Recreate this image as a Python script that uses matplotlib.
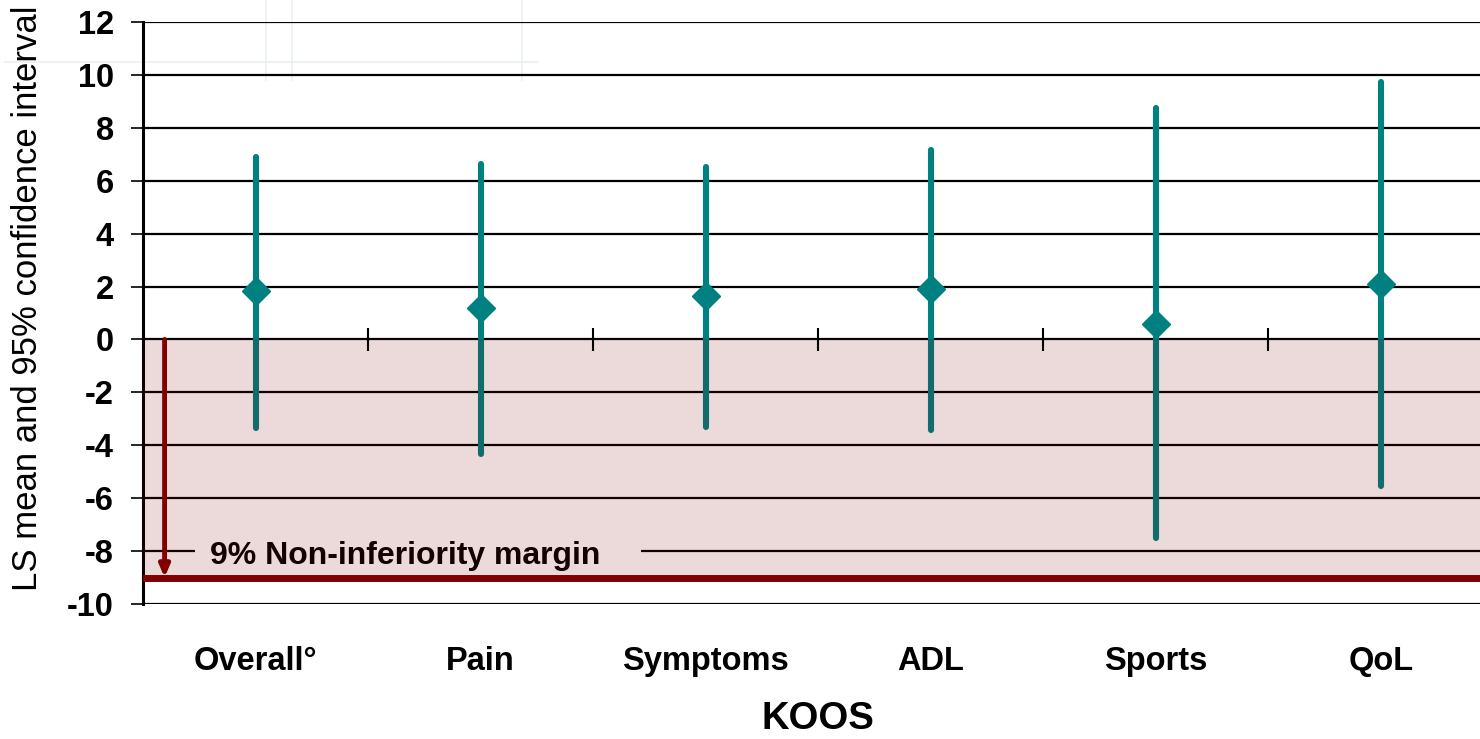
import matplotlib
matplotlib.use("Agg")
import matplotlib.pyplot as plt
from matplotlib.lines import Line2D

plt.rcParams["font.family"] = ["Liberation Sans", "DejaVu Sans"]

# KOOS subscales: LS mean difference with 95% confidence interval
categories = ["Overall\u00b0", "Pain", "Symptoms", "ADL", "Sports", "QoL"]
ls_mean = [1.83, 1.19, 1.64, 1.90, 0.58, 2.10]
ci_lower = [-3.34, -4.33, -3.31, -3.42, -7.50, -5.54]
ci_upper = [6.90, 6.63, 6.52, 7.16, 8.76, 9.73]
margin = -9
y_ticks = list(range(-10, 13, 2))

TEAL = "#008080"
DARK_RED = "#800000"

fig = plt.figure(figsize=(14.8, 7.39), dpi=100)
ax = fig.add_axes([0.0966, 0.1827, 0.9125, 0.7875])
ax.patch.set_visible(False)

x = list(range(len(categories)))

ax.set_xlim(-0.5, len(categories) - 0.5)
ax.set_ylim(y_ticks[0], y_ticks[-1])
ax.set_yticks(y_ticks)
ax.set_xticks(x)
ax.set_xticklabels(categories, fontsize=23.5, fontweight="bold")
ax.set_yticklabels([str(t) for t in y_ticks], fontsize=23.5, fontweight="bold")

ax.set_axisbelow(True)
ax.grid(axis="y", color="black", linewidth=1.6)
ax.grid(axis="x", visible=False)
for side in ("top", "right", "bottom"):
    ax.spines[side].set_visible(False)
ax.spines["left"].set_linewidth(2.2)
ax.tick_params(axis="y", length=9, width=1.2, pad=12)
ax.tick_params(axis="x", length=0, pad=30)

# confidence intervals and means
ax.vlines(x, ci_lower, ci_upper, color=TEAL, linewidth=4.4,
          capstyle="round", zorder=2)
ax.plot(x, ls_mean, linestyle="none", marker="D", markersize=14,
        color=TEAL, zorder=2.5)

# region below zero down to the margin
ax.fill_between([-0.5, len(categories) - 0.5], margin, 0,
                color=DARK_RED, alpha=0.15, linewidth=0, zorder=3)
ax.axhline(margin, color=DARK_RED, linewidth=5, zorder=4)

# category separators on the zero line
ax.vlines([i + 0.5 for i in x[:-1]], -0.45, 0.45, color="black",
          linewidth=1.5, zorder=4)

ax.annotate("", xy=(-0.404, margin), xytext=(-0.404, 0),
            arrowprops=dict(arrowstyle="-|>,head_length=0.7,head_width=0.3",
                            color=DARK_RED, linewidth=3.5, shrinkA=0, shrinkB=0),
            zorder=4)

ax.text(-0.2044, -8.19, "9% Non-inferiority margin   ", fontsize=23,
        fontweight="bold", va="center", ha="left", zorder=1,
        bbox=dict(boxstyle="square,pad=0.45", facecolor="white",
                  edgecolor="none"))

ax.set_xlabel("KOOS", fontsize=27.5, fontweight="bold", labelpad=17.8)
ax.set_ylabel("LS mean and 95% confidence interval", fontsize=25)
ax.yaxis.set_label_coords(-0.0730, 0.525)

# faint frame lines in the top corner
faint = "#eaf0f2"
for x0, y0, x1, y1 in [(266, 0, 266, 80), (292, 0, 292, 80),
                       (522, 0, 522, 80), (5, 62, 538, 62)]:
    fig.add_artist(Line2D([x0 / 1480, x1 / 1480], [1 - y0 / 739, 1 - y1 / 739],
                          color=faint, linewidth=1.2, zorder=-1))

fig.savefig("out.png", dpi=100)
